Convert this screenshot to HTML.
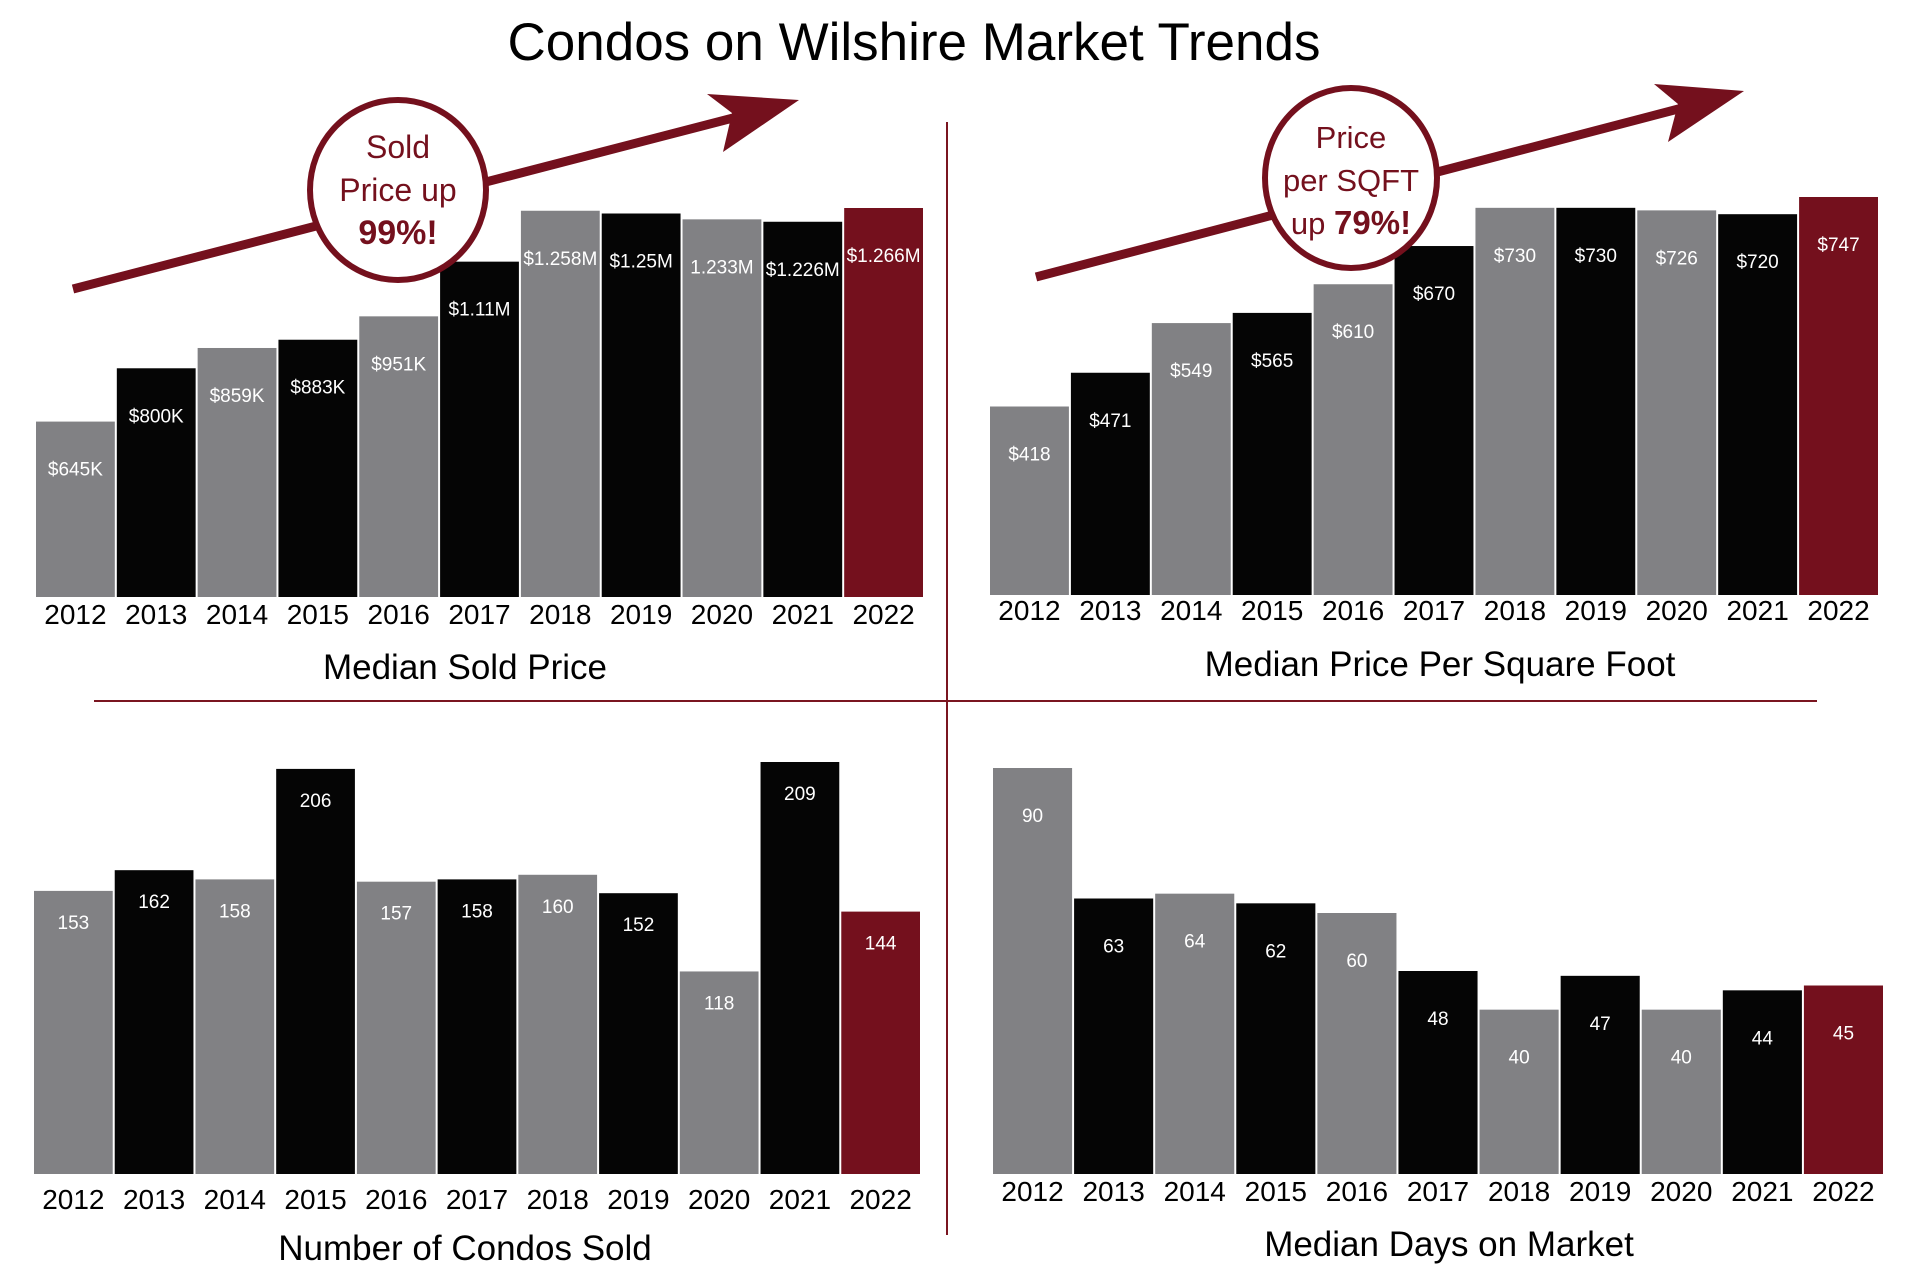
<!DOCTYPE html>
<html><head><meta charset="utf-8"><style>
html,body{margin:0;padding:0;background:#fff;}
svg{display:block;font-family:"Liberation Sans",sans-serif;}
</style></head><body>
<svg id="s" width="1920" height="1275" viewBox="0 0 1920 1275">
<text x="914" y="60" font-size="53" text-anchor="middle" fill="#000">Condos on Wilshire Market Trends</text>
<line x1="947" y1="122" x2="947" y2="1235" stroke="#7a1520" stroke-width="2"/>
<line x1="94" y1="701" x2="1817" y2="701" stroke="#7a1520" stroke-width="2"/>
<g id="charts"></g>
<g>
<line x1="73" y1="289" x2="760" y2="111" stroke="#74101d" stroke-width="9"/>
<polygon points="799,100 707,94 732,113 723,152" fill="#74101d"/>
<ellipse cx="398" cy="190" rx="88" ry="90" fill="#fff" stroke="#74101d" stroke-width="6"/>
<text x="398" y="158" font-size="32" text-anchor="middle" fill="#74101d">Sold</text>
<text x="398" y="201" font-size="32" text-anchor="middle" fill="#74101d">Price up</text>
<text x="398" y="244" font-size="34" font-weight="bold" text-anchor="middle" fill="#74101d">99%!</text>
</g>
<g>
<line x1="1036" y1="277" x2="1705" y2="102" stroke="#74101d" stroke-width="9"/>
<polygon points="1744,91 1654,84 1678,104 1668,142" fill="#74101d"/>
<ellipse cx="1351" cy="178" rx="86" ry="90" fill="#fff" stroke="#74101d" stroke-width="6"/>
<text x="1351" y="148" font-size="31" text-anchor="middle" fill="#74101d">Price</text>
<text x="1351" y="191" font-size="31" text-anchor="middle" fill="#74101d">per SQFT</text>
<text x="1351" y="234" font-size="31" text-anchor="middle" fill="#74101d">up <tspan font-weight="bold" font-size="33">79%!</tspan></text>
</g>
</svg>
<script>
const years = ["2012","2013","2014","2015","2016","2017","2018","2019","2020","2021","2022"];
const soldPrice = [645,800,859,883,951,1110,1258,1250,1233,1226,1266];
const soldPriceLabels = ["$645K","$800K","$859K","$883K","$951K","$1.11M","$1.258M","$1.25M","1.233M","$1.226M","$1.266M"];
const pricePerSqft = [418,471,549,565,610,670,730,730,726,720,747];
const pricePerSqftLabels = ["$418","$471","$549","$565","$610","$670","$730","$730","$726","$720","$747"];
const condosSold = [153,162,158,206,157,158,160,152,118,209,144];
const daysOnMarket = [90,63,64,62,60,48,40,47,40,44,45];

const svgNS="http://www.w3.org/2000/svg";
const root=document.getElementById('charts');
function mk(tag,attrs,parent){const e=document.createElementNS(svgNS,tag);for(const k in attrs)e.setAttribute(k,attrs[k]);parent.appendChild(e);return e;}
const colors=["#818184","#050505"];
function chart(cfg){
  const g=mk('g',{},root);
  
  
  const n=years.length, bw=(cfg.x1-cfg.x0)/n;
  const xScale=i=>cfg.x0+i*bw;
  const yScale=v=>cfg.base-(v-cfg.vmin)/(cfg.vmax-cfg.vmin)*(cfg.base-cfg.top);
  cfg.values.forEach((v,i)=>{
    const y=yScale(v);
    const r=mk('rect',{x:xScale(i)+1,y:y,width:bw-2,height:cfg.base-y,fill:i===n-1?"#74101d":colors[i%2]},g);
    
    
    const t=mk('text',{x:xScale(i)+bw/2,y:y+cfg.off,'font-size':19,'text-anchor':'middle',fill:'#fff'},g);
    t.textContent=cfg.labels?cfg.labels[i]:String(v);
    
    
    const yl=mk('text',{x:xScale(i)+bw/2,y:cfg.yearY,'font-size':28,'text-anchor':'middle',fill:'#000'},g);
    yl.textContent=years[i];
    
    
  });
  const tt=mk('text',{x:cfg.titleX,y:cfg.titleY,'font-size':35,'text-anchor':'middle',fill:'#000'},g);
  tt.textContent=cfg.title;
  
  
}
chart({name:'median-sold-price-chart',values:soldPrice,labels:soldPriceLabels,x0:35,x1:924,base:597,top:208,vmin:135,vmax:1266,off:54,yearY:624,titleY:679,titleX:465,title:"Median Sold Price"});
chart({name:'price-per-sqft-chart',values:pricePerSqft,labels:pricePerSqftLabels,x0:989,x1:1879,base:595,top:197,vmin:122,vmax:747,off:54,yearY:620,titleY:676,titleX:1440,title:"Median Price Per Square Foot"});
chart({name:'condos-sold-chart',values:condosSold,x0:33,x1:921,base:1174,top:762,vmin:30,vmax:209,off:38,yearY:1209,titleY:1260,titleX:465,title:"Number of Condos Sold"});
chart({name:'days-on-market-chart',values:daysOnMarket,x0:992,x1:1884,base:1174,top:768,vmin:6,vmax:90,off:54,yearY:1201,titleY:1256,titleX:1449,title:"Median Days on Market"});
</script>
</body></html>
